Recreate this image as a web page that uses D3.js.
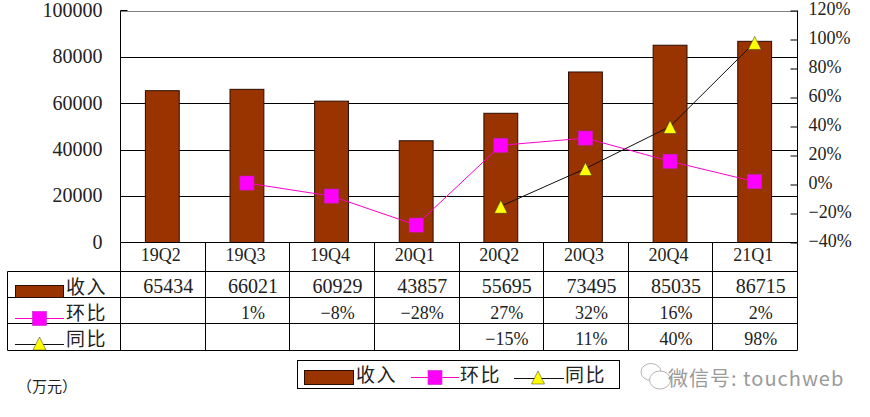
<!DOCTYPE html>
<html><head><meta charset="utf-8">
<script src="https://cdnjs.cloudflare.com/ajax/libs/d3/7.8.5/d3.min.js"></script>
<style>html,body{margin:0;padding:0;background:#fff}svg{display:block}
text{font-family:"Liberation Serif","Noto Sans CJK SC",serif;fill:#222}</style></head>
<body><svg id="c" width="870" height="417"></svg>
<script>
const categories=["19Q2","19Q3","19Q4","20Q1","20Q2","20Q3","20Q4","21Q1"];
const revenue=[65434,66021,60929,43857,55695,73495,85035,86715];
const qoq=[null,1,-8,-28,27,32,16,2];
const yoy=[null,null,null,null,-15,11,40,98];
const leftTicks=[0,20000,40000,60000,80000,100000];
const rightTicks=[-40,-20,0,20,40,60,80,100,120];
const names={rev:"收入",qoq:"环比",yoy:"同比"};
const unit="（万元）", watermark="微信号: touchweb";

const svg=d3.select("#c");
const L=120.5,R=797.5,T=10.5,B=242.5;
const x=d3.scaleBand().domain(categories).range([L,R]).paddingInner(0.6).paddingOuter(0.3);
const xs=d3.scaleBand().domain(categories).range([L,R]);
const y=d3.scaleLinear().domain([0,100000]).range([B,T]);
const y2=d3.scaleLinear().domain([-40,120]).range([B,T]);
const cx=c=>xs(c)+xs.bandwidth()/2-0.5;
const pct=d=>String(d).replace("-","\u2212")+"%";
const BROWN="#993300",MAG="#ff00cc",MAGF="#ff00ff",YEL="#ffff00";

// gridlines
svg.append("g").selectAll("line").data(leftTicks.filter(d=>d>0)).join("line")
 .attr("x1",L).attr("x2",R).attr("y1",d=>Math.round(y(d))+.5).attr("y2",d=>Math.round(y(d))+.5)
 .attr("stroke",d=>d===100000?"#808080":"#000").attr("stroke-width",1);

// bars
svg.append("g").selectAll("rect").data(categories).join("rect")
 .attr("x",c=>x(c)-0.5).attr("width",x.bandwidth())
 .attr("y",(c,i)=>y(revenue[i])).attr("height",(c,i)=>B-y(revenue[i]))
 .attr("fill",BROWN).attr("stroke","#2a0d00").attr("stroke-width",1);

// axes frame
const lg=svg.append("g").attr("transform",`translate(${L},0)`).call(d3.axisLeft(y).tickValues(leftTicks).tickSize(0).tickPadding(18).tickFormat(d=>d));
lg.select(".domain").attr("stroke","#000").attr("d",`M0,${T}V${B}`);
lg.selectAll("text").attr("font-size",20).attr("dy","0.29em").style("font-family",'"Liberation Serif"');
const rg=svg.append("g").attr("transform",`translate(${R},0)`).call(d3.axisRight(y2).tickValues(rightTicks).tickSizeInner(-7).tickSizeOuter(0).tickFormat(pct));
rg.select(".domain").attr("stroke","#000").attr("d",`M0,${T}V${B}`);
rg.selectAll("line").attr("stroke","#000");
rg.selectAll("text").attr("font-size",18).attr("dy","0.2em").attr("x",11).style("font-family",'"Liberation Serif"');
svg.append("line").attr("x1",L).attr("x2",L+7).attr("y1",T).attr("y2",T).attr("stroke","#000");

// lines
const line=(sc)=>d3.line().x(d=>cx(d.c)).y(d=>sc(d.v));
const q=categories.map((c,i)=>({c,v:qoq[i]})), o=categories.map((c,i)=>({c,v:yoy[i]}));
svg.append("path").datum(q.filter(d=>d.v!==null)).attr("d",line(y2)).attr("fill","none").attr("stroke",MAG).attr("stroke-width",1);
svg.append("path").datum(o.filter(d=>d.v!==null)).attr("d",line(y2)).attr("fill","none").attr("stroke","#111").attr("stroke-width",1);
const sq=(g,px,py)=>g.append("rect").attr("x",px-7).attr("y",py-7).attr("width",14).attr("height",14).attr("fill",MAGF).attr("stroke","#c81fc8").attr("stroke-width",.6);
const tri=(g,px,py)=>g.append("path").attr("d",`M${px},${py-7}L${px+6.5},${py+6}L${px-6.5},${py+6}Z`).attr("fill",YEL).attr("stroke","#333").attr("stroke-width",.5);
const mk=svg.append("g");
q.filter(d=>d.v!==null).forEach(d=>sq(mk,cx(d.c),y2(d.v)));
o.filter(d=>d.v!==null).forEach(d=>tri(mk,cx(d.c),y2(d.v)+1));

// data table
const rows=[271.5,297.5,323.5,350.5], TL=7.5;
const t=svg.append("g").attr("stroke","#000").attr("fill","none");
t.append("line").attr("x1",L).attr("x2",R).attr("y1",B).attr("y2",B);
rows.forEach(r=>t.append("line").attr("x1",TL).attr("x2",R).attr("y1",r).attr("y2",r));
t.append("line").attr("x1",TL).attr("x2",TL).attr("y1",rows[0]).attr("y2",rows[3]);
t.append("line").attr("x1",L).attr("x2",L).attr("y1",B).attr("y2",rows[3]);
categories.forEach(c=>{const xx=Math.floor(xs(c)+xs.bandwidth())+.5;t.append("line").attr("x1",xx).attr("x2",xx).attr("y1",B).attr("y2",rows[3]);});

const cell=(arr,dx,yy,fs,fmt)=>svg.append("g").selectAll("text").data(arr).join("text")
 .attr("x",(d,i)=>cx(categories[i])+dx).attr("y",yy).attr("text-anchor","middle").attr("font-size",fs)
 .style("font-family",'"Liberation Serif"').text(d=>d===null?"":fmt(d));
cell(categories,-1.5,261,18,d=>d);
cell(revenue,6,293,20,d=>d);
cell(qoq,6,319,18,pct);
cell(yoy,6,345,18,pct);

// row keys
svg.append("rect").attr("x",15.5).attr("y",285.5).attr("width",48).attr("height",12).attr("fill",BROWN).attr("stroke","#2a0d00");
svg.append("line").attr("x1",15).attr("x2",64).attr("y1",318.5).attr("y2",318.5).attr("stroke",MAG);
sq(svg,39.5,318.5);
svg.append("line").attr("x1",15).attr("x2",64).attr("y1",344.5).attr("y2",344.5).attr("stroke","#111");
tri(svg,39.5,344);
[[names.rev,294],[names.qoq,320],[names.yoy,346]].forEach(([s,yy])=>svg.append("text").attr("x",66).attr("y",yy).attr("font-size",19).attr("letter-spacing",1.5).text(s));

svg.append("text").attr("x",17).attr("y",392).attr("font-size",15).text(unit);

// legend
svg.append("rect").attr("x",297.5).attr("y",360.5).attr("width",322).attr("height",28).attr("fill","#fff").attr("stroke","#000");
svg.append("rect").attr("x",304.5).attr("y",370.5).attr("width",49).attr("height",14).attr("fill",BROWN).attr("stroke","#2a0d00");
svg.append("text").attr("x",356).attr("y",382).attr("font-size",19).attr("letter-spacing",1.5).text(names.rev);
svg.append("line").attr("x1",411).attr("x2",459).attr("y1",377.5).attr("y2",377.5).attr("stroke",MAG);
sq(svg,435,377.5);
svg.append("text").attr("x",460).attr("y",382).attr("font-size",19).attr("letter-spacing",1.5).text(names.qoq);
svg.append("line").attr("x1",514).attr("x2",564).attr("y1",378.5).attr("y2",378.5).attr("stroke","#111");
tri(svg,538,378);
svg.append("text").attr("x",565).attr("y",382).attr("font-size",19).attr("letter-spacing",1.5).text(names.yoy);

// watermark
const w=svg.append("g").attr("fill","none").attr("stroke","#b5b5b5").attr("stroke-width",1);
w.append("ellipse").attr("cx",651).attr("cy",372).attr("rx",10).attr("ry",8.5);
w.append("ellipse").attr("cx",660).attr("cy",380).attr("rx",10.5).attr("ry",9).attr("fill","#fff");
svg.append("text").attr("x",668).attr("y",386).attr("font-size",20).style("font-family",'"Noto Sans CJK SC"').style("fill","#9a9a9a").attr("letter-spacing",1).text(watermark);
</script></body></html>
